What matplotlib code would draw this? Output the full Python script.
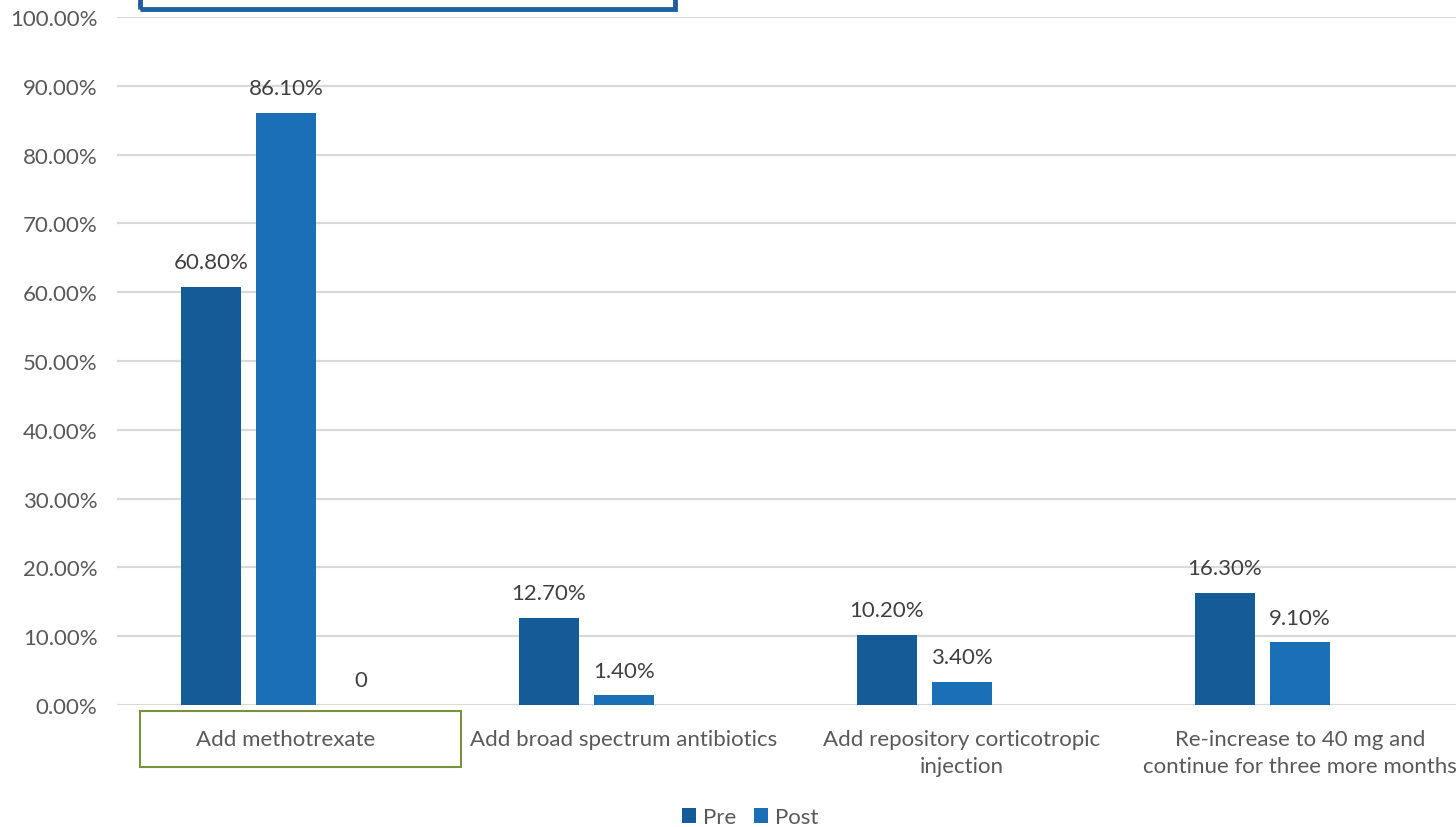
import matplotlib.pyplot as plt
from matplotlib.patches import Rectangle
import numpy as np

plt.rcParams['font.family'] = ['Lato', 'DejaVu Sans']

categories = ["Add methotrexate", "Add broad spectrum antibiotics",
              "Add repository corticotropic\ninjection",
              "Re-increase to 40 mg and\ncontinue for three more months"]
pre = [60.8, 12.7, 10.2, 16.3]
post = [86.1, 1.4, 3.4, 9.1]
extra = [0.0]  # third (unnamed) series, only first category
yticks = np.arange(0, 101, 10)

pre_color = '#155B98'
post_color = '#1B6FB7'
text_color = '#595959'
fs = 16

fig = plt.figure(figsize=(14.56, 8.28), dpi=100)
ax = fig.add_axes([117 / 1456, 122 / 828, 1 - 117 / 1456, 688 / 828])

x = np.arange(len(categories))
step = 0.222
w = 0.175
b1 = ax.bar(x - step, pre, w, color=pre_color, label='Pre', zorder=3)
b2 = ax.bar(x, post, w, color=post_color, label='Post', zorder=3)
ax.bar(x[:1] + step, extra, w, color='#2E75B6', zorder=3)

for bars, vals in ((b1, pre), (b2, post)):
    for r, v in zip(bars, vals):
        ax.text(r.get_x() + r.get_width() / 2, v + 3.6, f"{v:.2f}%",
                ha='center', va='center', fontsize=fs, color='#404040')
ax.text(x[0] + step, extra[0] + 3.6, "0", ha='center', va='center',
        fontsize=fs, color='#404040')

ax.set_ylim(0, 100)
ax.set_xlim(-0.5, 3.5 - 13 / 338)
ax.set_yticks(yticks)
ax.set_yticklabels([f"{t:.2f}%" for t in yticks], fontsize=fs, color=text_color)
ax.set_xticks(x)
ax.set_xticklabels(categories, fontsize=fs, color=text_color, linespacing=1.45)
ax.tick_params(axis='y', length=0, pad=14)
ax.tick_params(axis='x', length=0, pad=17)
ax.grid(axis='y', color='#D9D9D9', linewidth=1.6, zorder=0)
for s in ax.spines.values():
    s.set_visible(False)

# outlined shapes from the source slide
fig.patches.append(Rectangle((140 / 1456, 60 / 828), 321 / 1456, 56 / 828,
                             transform=fig.transFigure, fill=False,
                             edgecolor='#77933C', linewidth=1.5))
fig.patches.append(Rectangle((140 / 1456, 818 / 828), 535 / 1456, 30 / 828,
                             transform=fig.transFigure, fill=False,
                             edgecolor='#1F5F9F', linewidth=3.5))

fig.legend(handles=[b1, b2], loc='center', bbox_to_anchor=(750 / 1456, 10 / 828),
           ncol=2, frameon=False, fontsize=fs, handlelength=0.65, handleheight=0.65,
           handletextpad=0.3, columnspacing=0.8, labelcolor=text_color)

fig.savefig('out.png', dpi=100)
